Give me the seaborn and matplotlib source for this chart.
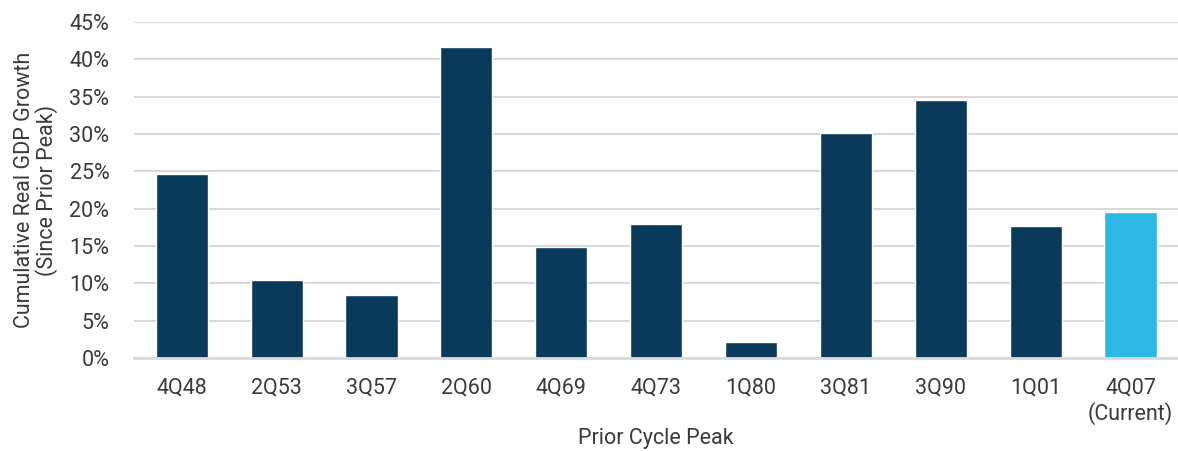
import matplotlib
matplotlib.use('Agg')
import pandas as pd
import matplotlib.pyplot as plt
import seaborn as sns
from matplotlib.ticker import PercentFormatter

# Chart data
peaks = ['4Q48', '2Q53', '3Q57', '2Q60', '4Q69', '4Q73',
         '1Q80', '3Q81', '3Q90', '1Q01', '4Q07\n(Current)']
growth = [24.6, 10.5, 8.5, 41.6, 14.9, 18.0, 2.2, 30.1, 34.5, 17.7, 19.5]
bar_colors = ['#0a3a5a'] * 10 + ['#2db8e5']

df = pd.DataFrame({'peak': peaks, 'growth': growth})

sns.set_style('white')
plt.rcParams['font.family'] = ['Roboto', 'DejaVu Sans']
text_color = '#3a3a3a'
fs = 15.5

fig = plt.figure(figsize=(11.78, 4.51), dpi=100)
ax = fig.add_axes([0.114, 0.206, 0.886, 0.745])

sns.barplot(data=df, x='peak', y='growth', hue='peak', palette=bar_colors,
            legend=False, width=0.55, saturation=1, ax=ax)

ax.set_ylim(0, 45)
ax.set_yticks(range(0, 50, 5))
ax.yaxis.set_major_formatter(PercentFormatter(decimals=0))
ax.grid(axis='y', color='#d9d9d9', linewidth=1.5)
ax.set_axisbelow(True)
for s in ['top', 'right', 'left']:
    ax.spines[s].set_visible(False)
ax.spines['bottom'].set_color('#d9d9d9')
ax.spines['bottom'].set_linewidth(2)

ax.tick_params(axis='both', length=0, labelsize=fs, colors=text_color)
ax.tick_params(axis='y', pad=18)
ax.tick_params(axis='x', pad=14)

ax.set_xlabel('Prior Cycle Peak', fontsize=fs, color=text_color, labelpad=2)
ax.set_ylabel('Cumulative Real GDP Growth\n(Since Prior Peak)', fontsize=fs,
              color=text_color, labelpad=8, linespacing=1.0)

plt.savefig('out.png', dpi=100)
plt.close()
